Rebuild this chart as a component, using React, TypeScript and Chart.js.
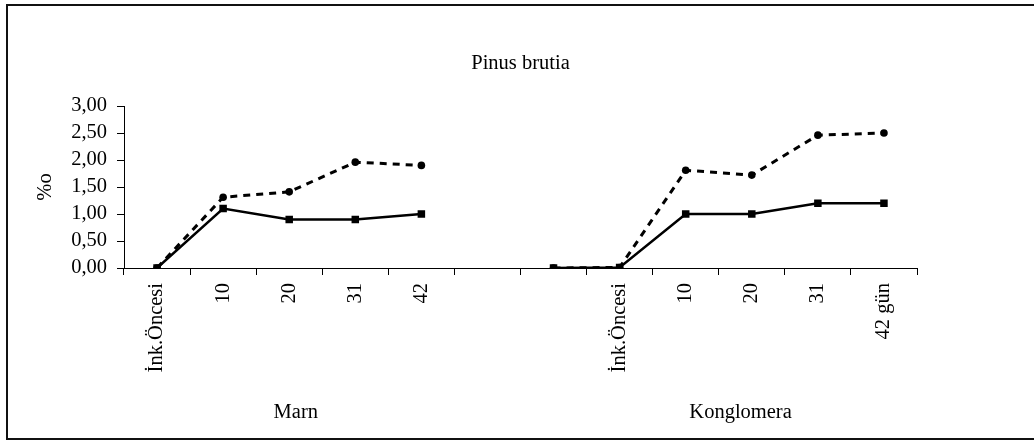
import React, { useEffect, useRef } from "react";
import { Chart, registerables } from "chart.js";

Chart.register(...registerables);

const categories = [
  "İnk.Öncesi", "10", "20", "31", "42",
  "", "",
  "İnk.Öncesi", "10", "20", "31", "42 gün",
];
const solidSeries = [0, 1.1, 0.9, 0.9, 1.0, null, 0, 0.01, 1.0, 1.0, 1.2, 1.2];
const dashedSeries = [0, 1.31, 1.41, 1.96, 1.9, null, 0, 0.01, 1.81, 1.72, 2.46, 2.5];
const groupLabels = ["Marn", "Konglomera"];
const groupCenters = [2.1, 8.83];
const chartTitle = "Pinus brutia";
const yTitle = "%o";

const FONT = "'Liberation Serif', 'Times New Roman', serif";
const FS = 20.5;

const decorPlugin = {
  id: "decor",
  beforeDraw(chart: any) {
    const ctx = chart.ctx;
    ctx.save();
    ctx.fillStyle = "#fff";
    ctx.fillRect(0, 0, chart.width, chart.height);
    ctx.strokeStyle = "#111";
    ctx.lineWidth = 2;
    ctx.beginPath();
    ctx.moveTo(chart.width + 2, 5);
    ctx.lineTo(7, 5);
    ctx.lineTo(7, 439);
    ctx.lineTo(chart.width + 2, 439);
    ctx.stroke();
    ctx.restore();
  },
  afterDraw(chart: any) {
    const ctx = chart.ctx;
    const area = chart.chartArea;
    const xs = chart.scales.x;
    ctx.save();
    ctx.fillStyle = "#000";
    ctx.font = `${FS}px ${FONT}`;
    ctx.textAlign = "center";
    ctx.textBaseline = "middle";
    ctx.fillText(chartTitle, (area.left + area.right) / 2, 64);
    groupLabels.forEach((g, i) => {
      ctx.fillText(g, xs.getPixelForValue(groupCenters[i]), 413);
    });
    ctx.translate(46, (area.top + area.bottom) / 2);
    ctx.rotate(-Math.PI / 2);
    ctx.fillText(yTitle, 0, 0);
    ctx.restore();
  },
};

export default function App() {
  const ref = useRef<HTMLCanvasElement>(null);
  useEffect(() => {
    if (!ref.current) return;
    const chart = new Chart(ref.current, {
      type: "line",
      data: {
        labels: categories,
        datasets: [
          {
            data: solidSeries,
            borderColor: "#000",
            backgroundColor: "#000",
            borderWidth: 2.5,
            pointStyle: "rect",
            pointRadius: 5.3,
            pointBorderWidth: 0,
            tension: 0,
            spanGaps: false,
          },
          {
            data: dashedSeries,
            borderColor: "#000",
            backgroundColor: "#000",
            borderWidth: 3,
            borderDash: [7, 6],
            pointStyle: "circle",
            pointRadius: 3.8,
            pointBorderWidth: 0,
            tension: 0,
            spanGaps: false,
          },
        ],
      },
      options: {
        animation: false,
        responsive: false,
        devicePixelRatio: 1,
        layout: { padding: { top: 106, right: 117, left: 0, bottom: 0 } },
        plugins: {
          legend: { display: false },
          tooltip: { enabled: false },
          title: { display: false },
        },
        scales: {
          x: {
            type: "category",
            offset: true,
            afterFit: (s: any) => { s.height = 173; },
            grid: {
              offset: true,
              drawOnChartArea: false,
              drawTicks: true,
              tickLength: 7,
              color: "#000",
            },
            border: { display: true, color: "#000", width: 1 },
            ticks: {
              autoSkip: false,
              maxRotation: 90,
              minRotation: 90,
              padding: 8,
              color: "#000",
              font: { family: FONT, size: FS },
            },
          },
          y: {
            min: 0,
            max: 3,
            afterFit: (s: any) => { s.width = 124; },
            grid: {
              drawOnChartArea: false,
              drawTicks: true,
              tickLength: 7,
              color: "#000",
            },
            border: { display: true, color: "#000", width: 1 },
            ticks: {
              autoSkip: false,
              stepSize: 0.5,
              padding: 10,
              color: "#000",
              font: { family: FONT, size: FS },
              callback: (v: any) => Number(v).toFixed(2).replace(".", ","),
            },
          },
        },
      },
      plugins: [decorPlugin],
    });
    return () => chart.destroy();
  }, []);
  return (
    <div style={{ position: "absolute", left: 0, top: 0, width: 1034, height: 441, background: "#fff" }}>
      <canvas ref={ref} width={1034} height={441} style={{ display: "block" }} />
    </div>
  );
}
